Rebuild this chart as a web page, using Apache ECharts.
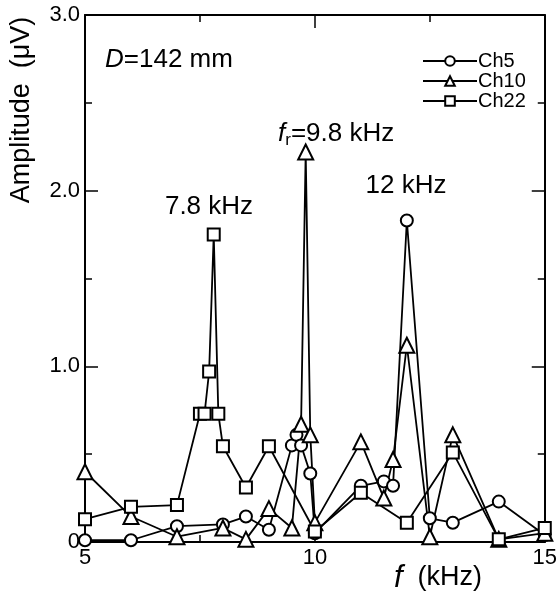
<!DOCTYPE html>
<html>
<head>
<meta charset="utf-8">
<script src="https://cdn.jsdelivr.net/npm/echarts@6/dist/echarts.min.js"></script>
<style>
html,body{margin:0;padding:0;background:#fff;}
#chart{width:560px;height:594px;}
</style>
</head>
<body>
<div id="chart"></div>
<script>
// 频率 (kHz) 和幅值 (uV)
var ch5X = [5, 6, 7, 8, 8.5, 9, 9.5, 9.6, 9.7, 9.9, 10, 11, 11.5, 11.7, 12, 12.5, 13, 14, 15];
var ch5Y = [0.01, 0.01, 0.09, 0.10, 0.145, 0.07, 0.55, 0.61, 0.55, 0.39, 0.05, 0.32, 0.345, 0.32, 1.83, 0.135, 0.11, 0.23, 0.04];

var ch10X = [5, 6, 7, 8, 8.5, 9, 9.5, 9.7, 9.8, 9.9, 10, 11, 11.5, 11.7, 12, 12.5, 13, 14, 15];
var ch10Y = [0.40, 0.145, 0.03, 0.08, 0.015, 0.19, 0.08, 0.67, 2.22, 0.61, 0.11, 0.57, 0.25, 0.47, 1.12, 0.03, 0.61, 0.015, 0.05];

var ch22X = [5, 6, 7, 7.5, 7.6, 7.7, 7.8, 7.9, 8, 8.5, 9, 10, 11, 12, 13, 14, 15];
var ch22Y = [0.13, 0.20, 0.21, 0.73, 0.73, 0.97, 1.75, 0.73, 0.545, 0.31, 0.545, 0.06, 0.28, 0.11, 0.51, 0.015, 0.08];

var seriesNames = ['Ch5', 'Ch10', 'Ch22'];

function pairs(xs, ys) {
    var out = [];
    for (var i = 0; i < xs.length; i++) {
        out.push([xs[i], ys[i]]);
    }
    return out;
}

var FONT = "'Liberation Sans', Arial, sans-serif";
var myChart = echarts.init(document.getElementById('chart'));

function lineSeries(name, sym, size, data) {
    return {
        name: name,
        type: 'line',
        data: data,
        symbol: sym,
        symbolSize: size,
        showAllSymbol: true,
        lineStyle: { color: '#000', width: 1.8 },
        itemStyle: { color: '#000', borderColor: '#000', borderWidth: 1.7 },
        emphasis: { disabled: true },
        animation: false
    };
}

var axisCommon = {
    type: 'value',
    axisLine: { show: true, onZero: false, lineStyle: { color: '#000', width: 2 } },
    axisTick: { show: true, inside: true, length: 13, lineStyle: { color: '#000', width: 1.5 } },
    minorTick: { show: true, splitNumber: 2, length: 7, lineStyle: { color: '#000', width: 1.5 } },
    splitLine: { show: false }
};

var Option = {
    backgroundColor: '#fff',
    animation: false,
    grid: { left: 85, right: 12, top: 15, bottom: 52 },
    legend: {
        data: seriesNames,
        orient: 'vertical',
        left: 417,
        top: 46,
        itemWidth: 54,
        itemHeight: 12,
        itemGap: 0,
        textStyle: { fontFamily: FONT, fontSize: 20, color: '#000', padding: [0, 0, 0, -4] }
    },
    xAxis: [
        Object.assign({}, axisCommon, {
            min: 5, max: 15, interval: 5, position: 'bottom',
            axisLabel: { fontFamily: FONT, fontSize: 22, color: '#000', margin: 5 }
        }),
        Object.assign({}, axisCommon, {
            min: 5, max: 15, interval: 5, position: 'top',
            axisLabel: { show: false }
        })
    ],
    yAxis: [
        Object.assign({}, axisCommon, {
            min: 0, max: 3, interval: 1, position: 'left',
            axisLabel: {
                fontFamily: FONT, fontSize: 22, color: '#000', margin: 5,
                formatter: function (v) { return v === 0 ? '0' : v.toFixed(1); }
            }
        }),
        Object.assign({}, axisCommon, {
            min: 0, max: 3, interval: 1, position: 'right',
            axisLabel: { show: false }
        })
    ],
    series: [
        lineSeries('Ch5', 'emptyCircle', 12, pairs(ch5X, ch5Y)),
        lineSeries('Ch10', 'emptyTriangle', 15, pairs(ch10X, ch10Y)),
        lineSeries('Ch22', 'emptyRect', 12, pairs(ch22X, ch22Y))
    ],
    graphic: [
        {
            type: 'text', x: 22, y: 110, rotation: Math.PI / 2,
            style: { text: 'Amplitude  (\u03bcV)', font: '27px ' + FONT, fill: '#000', align: 'center', verticalAlign: 'middle' }
        },
        {
            type: 'text', x: 438, y: 578,
            style: {
                text: '{i|f}  (kHz)', align: 'center', verticalAlign: 'middle', fill: '#000',
                font: '27px ' + FONT,
                rich: { i: { font: 'italic 31px ' + FONT, fill: '#000' } }
            }
        },
        {
            type: 'text', x: 105, y: 60,
            style: {
                text: '{i|D}=142 mm', verticalAlign: 'middle', fill: '#000',
                font: '26px ' + FONT,
                rich: { i: { font: 'italic 26px ' + FONT, fill: '#000' } }
            }
        },
        {
            type: 'text', x: 209, y: 207,
            style: { text: '7.8 kHz', align: 'center', verticalAlign: 'middle', font: '26px ' + FONT, fill: '#000' }
        },
        {
            type: 'text', x: 278, y: 134,
            style: {
                text: '{i|f}{s|r}=9.8 kHz', verticalAlign: 'middle', fill: '#000',
                font: '26px ' + FONT,
                rich: {
                    i: { font: 'italic 26px ' + FONT, fill: '#000' },
                    s: { font: '17px ' + FONT, fill: '#000', padding: [12, 0, 0, 0] }
                }
            }
        },
        {
            type: 'text', x: 406, y: 186,
            style: { text: '12 kHz', align: 'center', verticalAlign: 'middle', font: '26px ' + FONT, fill: '#000' }
        }
    ]
};

myChart.setOption(Option);
</script>
</body>
</html>
